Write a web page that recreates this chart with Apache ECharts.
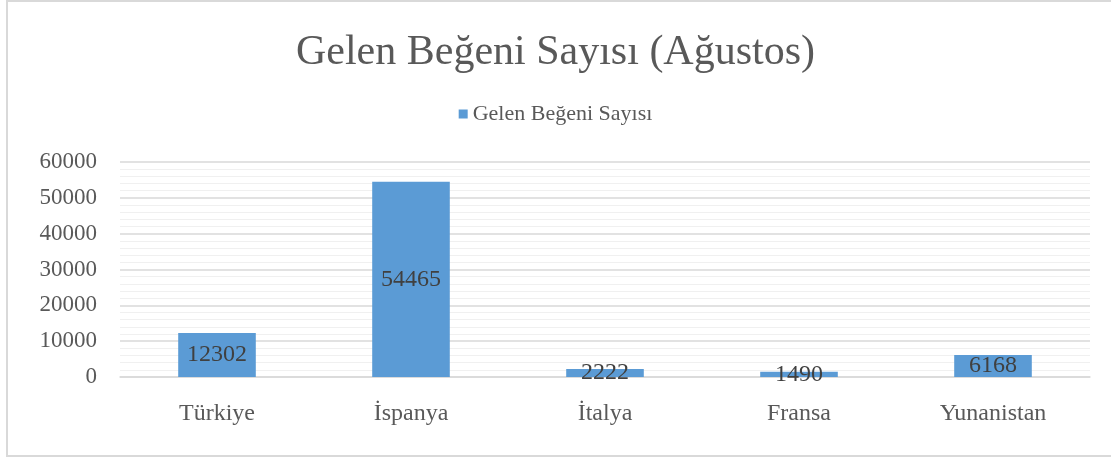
<!DOCTYPE html>
<html>
<head>
<meta charset="utf-8">
<script src="https://cdn.jsdelivr.net/npm/echarts@6/dist/echarts.min.js"></script>
<style>
  html, body { margin: 0; padding: 0; background: #fff; }
  #chart { position: absolute; left: 0; top: 0; width: 1111px; height: 459px; }
  #frame { position: absolute; left: 6px; top: 0px; width: 1120px; height: 453px;
           border-left: 2px solid #d9d9d9; border-top: 2px solid #d9d9d9; border-bottom: 2px solid #d9d9d9;
           pointer-events: none; }
</style>
</head>
<body>
<div id="chart"></div>
<div id="frame"></div>
<script>
// Gelen Beğeni Sayısı (Ağustos)
const countries = ['Türkiye', 'İspanya', 'İtalya', 'Fransa', 'Yunanistan'];
const likes = [12302, 54465, 2222, 1490, 6168];
const seriesName = 'Gelen Beğeni Sayısı';

const serif = '"Liberation Serif", "DejaVu Serif", serif';
const textGray = '#595959';

let myChart = echarts.init(document.getElementById('chart'));
let option = {
  animation: false,
  title: {
    text: 'Gelen Beğeni Sayısı (Ağustos)',
    left: 'center',
    top: 27,
    textStyle: { fontFamily: serif, fontSize: 42, fontWeight: 'normal', color: textGray }
  },
  legend: {
    data: [seriesName],
    top: 98,
    left: 'center',
    itemWidth: 9,
    itemHeight: 9,
    icon: 'rect',
    itemGap: 6,
    textStyle: { fontFamily: serif, fontSize: 22, color: textGray }
  },
  grid: { left: 120, right: 21, top: 162, bottom: 82, containLabel: false },
  xAxis: {
    type: 'category',
    data: countries,
    axisLine: { show: true, lineStyle: { color: '#d9d9d9', width: 1.5 } },
    axisTick: { show: false },
    axisLabel: { margin: 25, fontFamily: serif, fontSize: 24, color: textGray }
  },
  yAxis: {
    type: 'value',
    min: 0,
    max: 60000,
    interval: 10000,
    axisLine: { show: false },
    axisTick: { show: false },
    axisLabel: {
      margin: 23,
      fontFamily: serif,
      fontSize: 23,
      color: textGray,
      formatter: function (v) { return String(v); }
    },
    splitLine: { show: true, lineStyle: { color: '#d9d9d9', width: 1.5 } },
    minorTick: { show: false, splitNumber: 5 },
    minorSplitLine: { show: true, lineStyle: { color: '#f0f0f0', width: 1 } }
  },
  series: [
    {
      name: seriesName,
      type: 'bar',
      data: likes,
      barWidth: '40%',
      itemStyle: { color: '#5b9bd5' },
      label: {
        show: true,
        position: 'inside',
        fontFamily: serif,
        fontSize: 24,
        color: '#404040'
      }
    }
  ]
};
option && myChart.setOption(option);
</script>
</body>
</html>
